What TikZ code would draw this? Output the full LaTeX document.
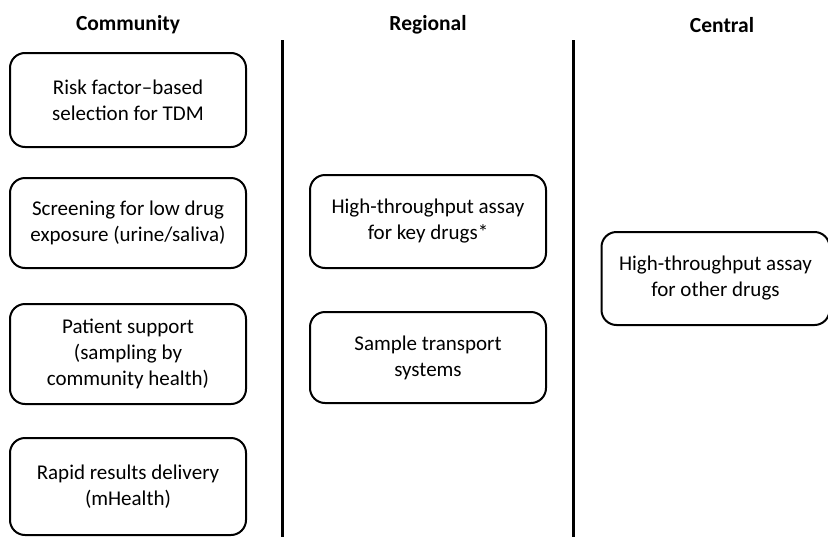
\documentclass[tikz,border=0pt]{standalone}
\usepackage{fontspec}
\setmainfont{Carlito}
\begin{document}
\begin{tikzpicture}[x=1pt,y=-1pt,
  boxn/.style={draw=black, line width=2pt, rounded corners=15pt, align=center,
    font=\fontsize{21}{26}\selectfont, inner sep=0pt},
  head/.style={font=\fontsize{21.5}{25}\selectfont\bfseries, inner sep=0pt},
  divider/.style={draw=black, line width=3pt}]
\useasboundingbox (0,0) rectangle (828,536);
\fill[white] (0,0) rectangle (828,536);
% headers
\node[head] (h1) at (128,25) {Community};
\node[head] (h2) at (428,25) {Regional};
\node[head] (h3) at (722,25) {Central};
% dividers
\coordinate (d1t) at (282,40);
\coordinate (d1b) at (282,540);
\coordinate (d2t) at (573,40);
\coordinate (d2b) at (573,540);
\draw[divider] (d1t) -- (d1b);
\draw[divider] (d2t) -- (d2b);
% community
\node[boxn, minimum width=236pt, minimum height=94pt] (c1) at (128,100) {Risk factor--based\\selection for TDM};
\node[boxn, minimum width=236pt, minimum height=90pt] (c2) at (128,223) {Screening for low drug\\exposure (urine/saliva)};
\node[boxn, minimum width=236pt, minimum height=100pt] (c3) at (128,354) {Patient support\\(sampling by\\community health)};
\node[boxn, minimum width=236pt, minimum height=97pt] (c4) at (128,486.5) {Rapid results delivery\\(mHealth)};
% regional
\node[boxn, minimum width=236pt, minimum height=93pt] (r1) at (428,221.5) {High-throughput assay\\for key drugs*};
\node[boxn, minimum width=236pt, minimum height=91pt] (r2) at (428,357.5) {Sample transport\\systems};
% central
\node[boxn, minimum width=228pt, minimum height=93pt] (z1) at (715.5,278.5) {High-throughput assay\\for other drugs};
\end{tikzpicture}
\end{document}
